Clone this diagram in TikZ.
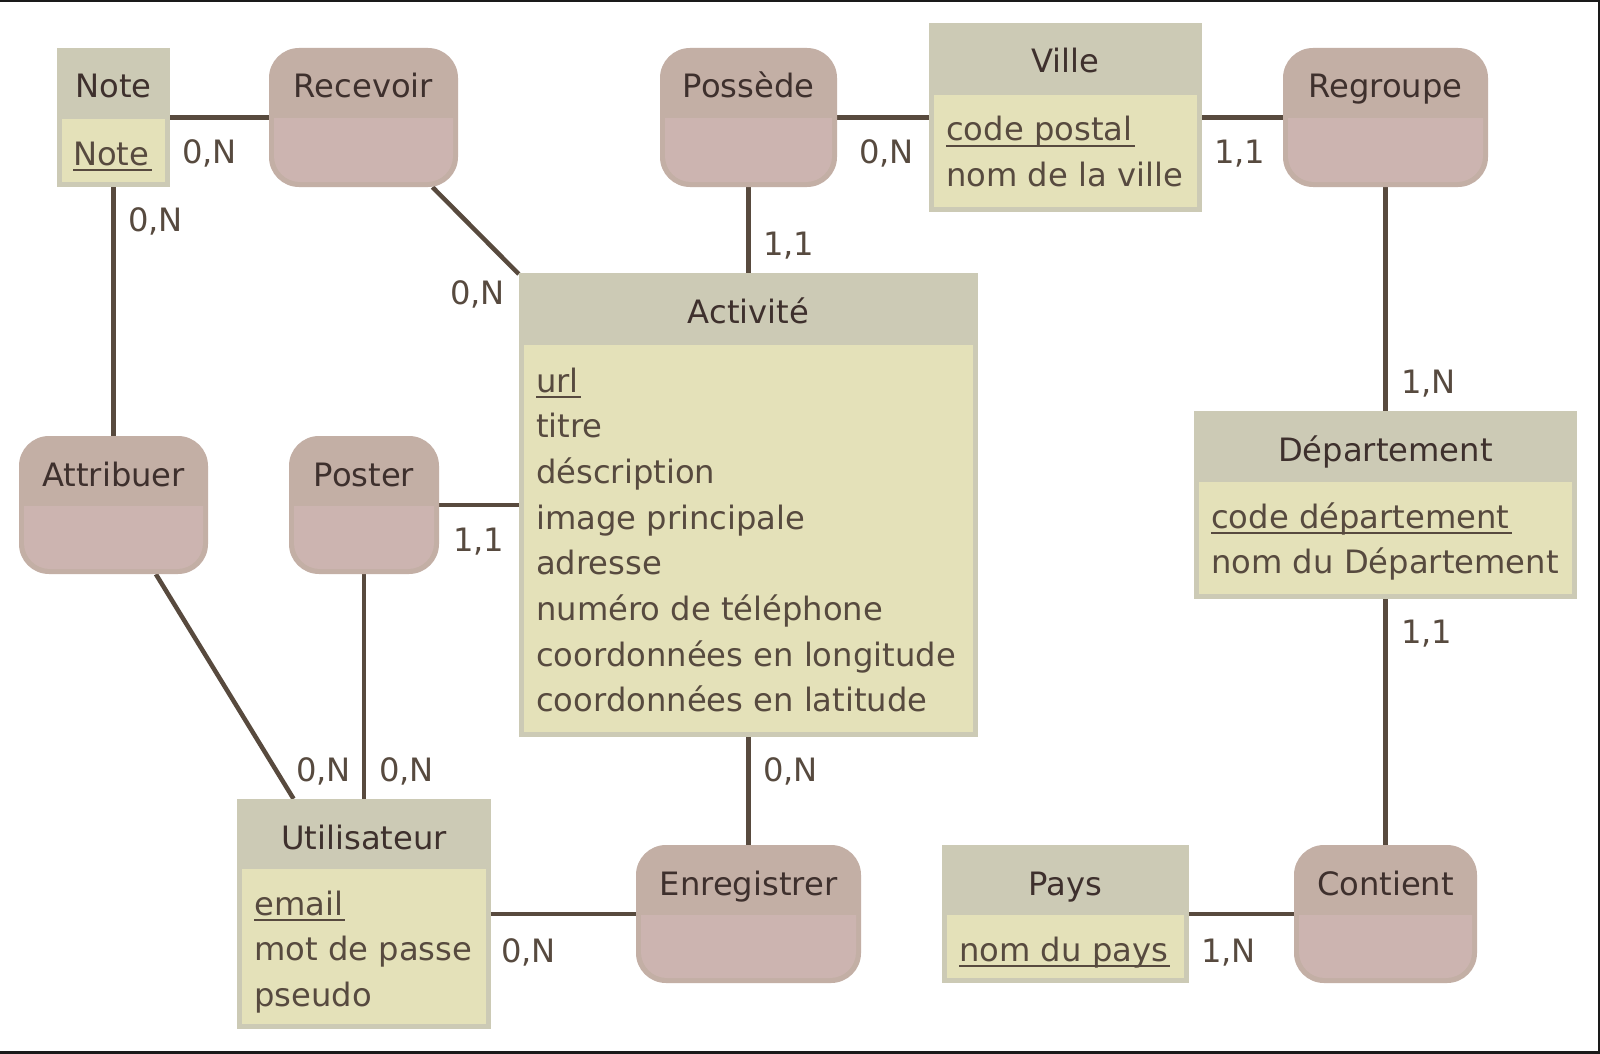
\documentclass[tikz,border=0pt]{standalone}
\usepackage{fontspec}
\setmainfont{DejaVu Sans}
\definecolor{enthead}{HTML}{CCCAB5}
\definecolor{entbody}{HTML}{E4E1B9}
\definecolor{relhead}{HTML}{C3AFA5}
\definecolor{relbody}{HTML}{CCB4B0}
\definecolor{linecol}{HTML}{584A3E}
\definecolor{titlecol}{HTML}{3E302D}
\definecolor{attrcol}{HTML}{574A3F}
\definecolor{framecol}{HTML}{1A1A1A}
\pgfdeclarelayer{background}
\pgfsetlayers{background,main}
\newcommand\myentity[7]{%
  \node[entbox, minimum width={#4pt-#2pt}, minimum height={#5pt-#3pt}] (#1) at ({(#2+#4)/2},{(#3+#5)/2}) {};
  \fill[entbody] (#2+5,#6) rectangle (#4-5,#5-5);
  \node[titletext] (#1-t) at ({(#2+#4)/2},#3+50) {#7};
}
\newcommand\myrelation[7]{%
  \node[relbox, minimum width={#4pt-#2pt}, minimum height={#5pt-#3pt}] (#1) at ({(#2+#4)/2},{(#3+#5)/2}) {};
  \begin{scope}
    \clip (#2,#6) rectangle (#4,#5);
    \fill[relbody, rounded corners=26pt] (#2+5,#6-60) rectangle (#4-5,#5-5);
  \end{scope}
  \node[titletext] (#1-t) at ({(#2+#4)/2},#3+50) {#7};
}
\newcommand\myattr[4]{\node[attrtext] (#1) at (#2,#3) {#4};}
\newcommand\mykey[4]{\node[attrtext] (#1) at (#2,#3) {#4};
  \draw[keyline] ([yshift=-5pt]#1.base west) -- ([xshift=2pt,yshift=-5pt]#1.base east);}
\begin{document}
\begin{tikzpicture}[x=1pt,y=-1pt,
  entbox/.style={rectangle, inner sep=0pt, fill=enthead, draw=none},
  relbox/.style={rectangle, rounded corners=30pt, inner sep=0pt, fill=relhead, draw=none},
  titletext/.style={anchor=base, inner sep=0pt, text=titlecol, font=\fontsize{32.2}{38}\selectfont},
  attrtext/.style={anchor=base west, inner sep=0pt, text=attrcol, font=\fontsize{32.2}{38}\selectfont},
  cardtext/.style={anchor=base west, inner sep=0pt, text=attrcol, font=\fontsize{32.2}{38}\selectfont},
  keyline/.style={draw=attrcol, line width=2pt},
  link/.style={draw=linecol, line width=4.5pt}]
\useasboundingbox (0,0) rectangle (1600,1054);
\fill[framecol] (0,0) rectangle (1600,2);
\fill[framecol] (1598,0) rectangle (1600,1054);
\fill[framecol] (0,1051) rectangle (1600,1054);

% entities
\myentity{note}{57}{48}{170}{187}{119}{Note}
\mykey{note-a1}{73}{165}{Note}

\myentity{ville}{929}{23}{1202}{212}{95}{Ville}
\mykey{ville-a1}{946}{141}{code postal}
\myattr{ville-a2}{946}{186.7}{nom de la ville}

\myentity{activite}{519}{273}{978}{737}{345}{Activité}
\mykey{act-a1}{536}{392}{url}
\myattr{act-a2}{536}{437.7}{titre}
\myattr{act-a3}{536}{483.4}{déscription}
\myattr{act-a4}{536}{529.1}{image principale}
\myattr{act-a5}{536}{574.8}{adresse}
\myattr{act-a6}{536}{620.5}{numéro de téléphone}
\myattr{act-a7}{536}{666.2}{coordonnées en longitude}
\myattr{act-a8}{536}{711.9}{coordonnées en latitude}

\myentity{departement}{1194}{411}{1577}{599}{482}{Département}
\mykey{dep-a1}{1211}{528}{code département}
\myattr{dep-a2}{1211}{573.7}{nom du Département}

\myentity{utilisateur}{237}{799}{491}{1029}{869}{Utilisateur}
\mykey{uti-a1}{254}{915}{email}
\myattr{uti-a2}{254}{960.7}{mot de passe}
\myattr{uti-a3}{254}{1006.4}{pseudo}

\myentity{pays}{942}{845}{1189}{983}{915}{Pays}
\mykey{pays-a1}{959}{961}{nom du pays}

% relations
\myrelation{recevoir}{269}{48}{458}{187}{119}{Recevoir}
\myrelation{possede}{660}{48}{837}{187}{119}{Possède}
\myrelation{regroupe}{1283}{48}{1488}{187}{119}{Regroupe}
\myrelation{attribuer}{19}{436}{208}{574}{506}{Attribuer}
\myrelation{poster}{289}{436}{439}{574}{506}{Poster}
\myrelation{enregistrer}{636}{845}{861}{983}{915}{Enregistrer}
\myrelation{contient}{1294}{845}{1477}{983}{915}{Contient}

% connectors
\begin{pgfonlayer}{background}
\fill[white] (0,2) rectangle (1598,1051);
\draw[link] (note) -- (recevoir);
\draw[link] (note) -- (attribuer);
\draw[link] (recevoir) -- (activite);
\draw[link] (possede) -- (ville);
\draw[link] (possede) -- (activite);
\draw[link] (ville) -- (regroupe);
\draw[link] (regroupe) -- (departement);
\draw[link] (departement) -- (contient);
\draw[link] (pays) -- (contient);
\draw[link] (poster) -- (activite);
\draw[link] (poster) -- (utilisateur);
\draw[link] (attribuer) -- (utilisateur);
\draw[link] (activite) -- (enregistrer);
\draw[link] (utilisateur) -- (enregistrer);
\end{pgfonlayer}

% cardinalities
\node[cardtext] (c1) at (182,163) {0,N};
\node[cardtext] (c2) at (128,231) {0,N};
\node[cardtext] (c3) at (450,304) {0,N};
\node[cardtext] (c4) at (859,163) {0,N};
\node[cardtext] (c5) at (763,255) {1,1};
\node[cardtext] (c6) at (1214,163) {1,1};
\node[cardtext] (c7) at (1401,393) {1,N};
\node[cardtext] (c8) at (1401,643) {1,1};
\node[cardtext] (c9) at (453,551) {1,1};
\node[cardtext] (c10) at (296,781) {0,N};
\node[cardtext] (c11) at (379,781) {0,N};
\node[cardtext] (c12) at (763,781) {0,N};
\node[cardtext] (c13) at (501,962) {0,N};
\node[cardtext] (c14) at (1201,962) {1,N};
\end{tikzpicture}
\end{document}
